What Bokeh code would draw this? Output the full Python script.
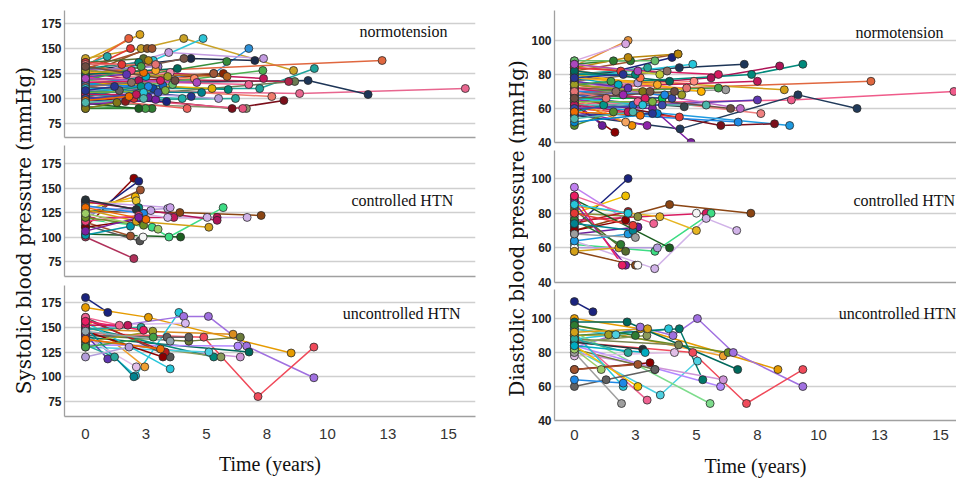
import math
from bokeh.plotting import figure
from bokeh.layouts import row, column
from bokeh.models import Range1d, FixedTicker, ColumnDataSource, Label
from bokeh.embed import file_html
from bokeh.resources import INLINE

# ---------------- data ----------------
x_ticks = [0, 2.5, 5, 7.5, 10, 12.5, 15]
x_tick_labels = ["0", "3", "5", "8", "10", "13", "15"]
sbp_ticks = [75, 100, 125, 150, 175]
dbp_ticks = [40, 60, 80, 100]
group_labels = ["normotension", "controlled HTN", "uncontrolled HTN"]
x_title = "Time (years)"
sbp_title = "Systolic blood pressure (mmHg)"
dbp_title = "Diastolic blood pressure (mmHg)"

# each subject: list of (time in years, blood pressure)
sbp_normo = [
    [(0, 138), (2.25, 164)], [(0, 132), (1.79, 160)], [(0, 140), (2.3, 150), (4.06, 160), (8.6, 128)],
    [(0, 118), (2.8, 138), (4.86, 160)], [(0, 112), (5.3, 125), (6.75, 150)], [(0, 128), (4.36, 140), (7.0, 138)],
    [(0, 122), (3.44, 146), (7.36, 140)], [(0, 125), (12.26, 138)], [(0, 108), (8.85, 105), (15.7, 110)],
    [(0, 115), (9.2, 118), (11.68, 104)], [(0, 110), (7.2, 110), (9.46, 130)], [(0, 100), (8.65, 117)],
    [(0, 120), (8.4, 117)], [(0, 105), (6.06, 90), (8.2, 98)], [(0, 112), (7.7, 102)],
    [(0, 130), (7.36, 120)], [(0, 106), (7.33, 128)], [(0, 118), (6.75, 114)],
    [(0, 96), (6.65, 90)], [(0, 102), (6.5, 90)], [(0, 98), (6.2, 100)],
    [(0, 115), (5.9, 109)], [(0, 100), (4.2, 90)], [(0, 104), (4.0, 100)],
    [(0, 110), (4.37, 102)], [(0, 98), (3.35, 97)], [(0, 90), (2.75, 90)],
    [(0, 92), (2.48, 90)], [(0, 95), (2.2, 90)], [(0, 108), (2.0, 100)],
    [(0, 102), (1.65, 97)], [(0, 134), (0.9, 142)], [(0, 128), (1.86, 150)],
    [(0, 124), (2.55, 150)], [(0, 130), (2.75, 150)], [(0, 120), (4.07, 140)],
    [(0, 114), (5.84, 137)], [(0, 116), (5.23, 110)], [(0, 108), (5.5, 100)],
    [(0, 118), (5.3, 125)], [(0, 112), (5.7, 125)], [(0, 126), (5.85, 122)],
    [(0, 136), (2.4, 140)], [(0, 122), (2.6, 138)], [(0, 100), (2.6, 101)],
    [(0, 94), (2.9, 99)], [(0, 110), (3.2, 113)], [(0, 120), (1.9, 128)],
    [(0, 126), (2.2, 118)], [(0, 114), (2.5, 122)], [(0, 104), (2.8, 110)],
    [(0, 132), (2.4, 126)], [(0, 118), (3.6, 114)], [(0, 107), (4.8, 106)],
    [(0, 124), (4.5, 120)], [(0, 90), (1.3, 96)], [(0, 128), (3.0, 132)],
    [(0, 112), (1.4, 108)], [(0, 116), (3.5, 126)], [(0, 102), (2.3, 112)],
    [(0, 136), (1.5, 134)], [(0, 130), (2.2, 136)], [(0, 126), (2.9, 128)], [(0, 122), (1.7, 124)],
    [(0, 118), (2.3, 132)], [(0, 116), (3.1, 118)], [(0, 114), (2.6, 112)], [(0, 112), (1.9, 116)],
    [(0, 110), (2.4, 106)], [(0, 106), (3.3, 108)], [(0, 104), (2.1, 104)], [(0, 100), (3.0, 106)],
    [(0, 98), (1.8, 102)], [(0, 124), (3.8, 130)], [(0, 120), (4.6, 116)], [(0, 128), (3.4, 122)],
    [(0, 134), (2.9, 134)], [(0, 108), (1.2, 112)], [(0, 96), (2.4, 100)], [(0, 132), (3.7, 118)],
]
sbp_ctrl = [
    [(0, 110), (2.0, 160)], [(0, 118), (2.2, 157)], [(0, 122), (2.27, 148)], [(0, 128), (2.06, 141)],
    [(0, 134), (2.1, 137)], [(0, 126), (2.2, 130)], [(0, 130), (2.7, 127)], [(0, 124), (3.4, 129)],
    [(0, 136), (3.5, 130)], [(0, 126), (3.9, 125), (7.26, 122)], [(0, 120), (3.65, 120), (5.44, 120)],
    [(0, 132), (3.4, 120), (5.03, 120), (6.68, 120)], [(0, 118), (2.75, 110), (3.45, 100), (5.69, 130)],
    [(0, 103), (3.93, 100)], [(0, 115), (1.86, 101)], [(0, 112), (2.25, 96)], [(0, 125), (2.38, 100)],
    [(0, 100), (2.0, 78)], [(0, 102), (1.86, 111)], [(0, 128), (2.1, 116), (5.1, 110)],
    [(0, 136), (5.44, 117)], [(0, 110), (2.3, 118)], [(0, 132), (2.4, 124)], [(0, 138), (2.1, 128)],
    [(0, 116), (2.2, 122)], [(0, 120), (2.4, 112)], [(0, 130), (2.5, 118)], [(0, 106), (2.2, 120)],
    [(0, 124), (3.0, 108)],
]
sbp_unctrl = [
    [(0, 180), (0.92, 165)], [(0, 170), (2.6, 160), (8.5, 124)], [(0, 158), (2.45, 110)],
    [(0, 148), (6.1, 143)], [(0, 142), (4.27, 136), (6.4, 140)], [(0, 145), (2.07, 101), (3.86, 165)],
    [(0, 147), (4.06, 161), (5.08, 161), (6.66, 131), (9.44, 99)], [(0, 152), (4.13, 154)],
    [(0, 144), (4.89, 140), (7.13, 80), (9.44, 130)], [(0, 140), (6.76, 125)], [(0, 132), (6.3, 131)],
    [(0, 136), (6.4, 120)], [(0, 150), (5.3, 120)], [(0, 138), (5.6, 120)], [(0, 130), (5.1, 125)],
    [(0, 155), (3.5, 108)], [(0, 160), (3.5, 120)], [(0, 142), (3.37, 140), (4.27, 140)],
    [(0, 158), (3.3, 125)], [(0, 146), (3.2, 120)], [(0, 135), (2.78, 146)], [(0, 150), (2.0, 100)],
    [(0, 140), (2.1, 110)], [(0, 143), (0.92, 118)], [(0, 132), (1.2, 120)], [(0, 120), (1.8, 130)],
    [(0, 130), (2.8, 140)], [(0, 160), (1.4, 152)], [(0, 148), (2.3, 150)], [(0, 152), (1.75, 152)],
    [(0, 138), (3.1, 128)], [(0, 146), (3.5, 136)], [(0, 156), (2.4, 147)],
]
dbp_normo = [
    [(0, 85), (2.2, 100)], [(0, 88), (2.1, 98)], [(0, 82), (4.24, 92)], [(0, 76), (4.0, 90)],
    [(0, 80), (4.3, 84), (6.96, 86)], [(0, 78), (4.85, 86)], [(0, 72), (5.6, 78), (8.41, 85)],
    [(0, 74), (7.26, 80), (9.36, 86)], [(0, 70), (12.15, 76)], [(0, 63), (8.89, 65), (15.55, 70)],
    [(0, 56), (4.33, 48), (9.16, 68), (11.58, 60)], [(0, 78), (8.6, 71)], [(0, 62), (8.82, 50)],
    [(0, 66), (6.0, 50), (8.2, 51)], [(0, 58), (6.71, 52)], [(0, 70), (7.64, 57)], [(0, 60), (7.5, 65)],
    [(0, 72), (7.5, 76)], [(0, 84), (5.9, 80)], [(0, 68), (6.2, 71)], [(0, 70), (5.9, 72)],
    [(0, 62), (3.2, 60), (4.78, 40)], [(0, 60), (4.3, 55)], [(0, 58), (2.98, 50)], [(0, 64), (2.36, 50)],
    [(0, 66), (2.1, 52)], [(0, 62), (1.66, 46)], [(0, 64), (1.14, 50)], [(0, 50), (1.6, 58)],
    [(0, 52), (3.4, 57)], [(0, 56), (3.2, 57)], [(0, 72), (4.9, 76)], [(0, 66), (4.5, 61)],
    [(0, 86), (1.6, 88), (2.3, 88)], [(0, 84), (2.2, 90), (4.25, 92)], [(0, 88), (3.3, 88)],
    [(0, 80), (3.0, 84)], [(0, 76), (3.8, 82)], [(0, 70), (2.6, 75)], [(0, 74), (2.8, 70)],
    [(0, 68), (2.4, 62)], [(0, 60), (2.6, 64)], [(0, 82), (2.7, 78)], [(0, 66), (3.6, 66)],
    [(0, 78), (1.8, 74)], [(0, 72), (3.1, 70)], [(0, 64), (2.0, 68)], [(0, 86), (3.5, 80)],
    [(0, 58), (1.2, 62)], [(0, 75), (4.6, 72)], [(0, 68), (4.0, 66)], [(0, 80), (5.2, 70)],
    [(0, 62), (5.4, 62)], [(0, 76), (6.8, 60)], [(0, 70), (6.4, 60)],
    [(0, 84), (1.9, 82)], [(0, 80), (2.5, 80)], [(0, 78), (3.4, 74)], [(0, 76), (2.2, 72)],
    [(0, 74), (1.5, 76)], [(0, 72), (2.9, 66)], [(0, 70), (3.7, 68)], [(0, 68), (1.7, 70)],
    [(0, 66), (2.8, 62)], [(0, 64), (3.2, 64)], [(0, 62), (2.2, 58)], [(0, 60), (3.6, 62)],
    [(0, 58), (2.7, 56)], [(0, 82), (3.9, 76)], [(0, 86), (2.6, 82)], [(0, 74), (4.4, 68)],
    [(0, 70), (1.3, 66)], [(0, 78), (2.0, 80)], [(0, 54), (2.4, 58)], [(0, 66), (4.1, 70)],
]
dbp_ctrl = [
    [(0, 72), (2.2, 100)], [(0, 80), (2.1, 90)], [(0, 70), (3.9, 85), (7.23, 80)], [(0, 78), (5.0, 80)],
    [(0, 76), (5.4, 80)], [(0, 62), (3.3, 58), (5.6, 80)], [(0, 95), (2.6, 72)],
    [(0, 64), (3.29, 48), (5.4, 77), (6.65, 70)], [(0, 84), (3.5, 78), (5.0, 70)], [(0, 90), (3.25, 74)],
    [(0, 80), (2.6, 78)], [(0, 68), (2.6, 72)], [(0, 70), (2.1, 76)], [(0, 74), (2.2, 81)],
    [(0, 60), (3.4, 60)], [(0, 88), (3.9, 60)], [(0, 86), (2.1, 50)], [(0, 90), (1.96, 50)],
    [(0, 58), (2.5, 50)], [(0, 60), (2.6, 50)], [(0, 58), (1.82, 60)], [(0, 82), (2.1, 58)],
    [(0, 76), (1.9, 62)], [(0, 64), (2.2, 68)], [(0, 74), (2.4, 70)], [(0, 80), (2.4, 73)],
    [(0, 68), (2.5, 66)], [(0, 85), (2.2, 80)],
]
dbp_unctrl = [
    [(0, 110), (0.76, 104)], [(0, 100), (2.7, 94), (8.34, 70)], [(0, 96), (6.1, 78)], [(0, 94), (6.3, 80)],
    [(0, 98), (2.16, 98), (6.69, 70)], [(0, 83), (2.7, 95), (4.04, 90), (5.04, 100), (6.51, 80), (9.36, 60)],
    [(0, 88), (3.86, 94)], [(0, 90), (4.3, 94), (5.26, 64)], [(0, 86), (4.85, 80), (7.05, 50), (9.36, 70)],
    [(0, 82), (3.52, 55), (5.04, 75)], [(0, 92), (5.56, 50)], [(0, 84), (5.99, 60)], [(0, 80), (6.1, 64)],
    [(0, 88), (4.27, 84.5)], [(0, 86), (2.97, 90)], [(0, 78), (4.1, 80)], [(0, 82), (3.3, 70)],
    [(0, 90), (2.98, 52)], [(0, 84), (2.6, 60)], [(0, 92), (2.0, 60)], [(0, 80), (1.93, 50)],
    [(0, 60), (1.3, 64), (3.3, 70)], [(0, 64), (2.0, 62)], [(0, 70), (3.1, 74)], [(0, 70), (2.6, 73)],
    [(0, 90), (1.4, 90.5)], [(0, 94), (1.7, 90.5)], [(0, 82), (1.1, 70)], [(0, 96), (2.5, 90)],
    [(0, 86), (2.8, 82)], [(0, 88), (2.2, 80)], [(0, 84), (2.9, 80)], [(0, 92), (3.0, 94)],
]

# ---------------- styles ----------------
extra_colors = [
    "#e53935", "#00897b", "#f9a825", "#5e35b1", "#43a047", "#d81b60", "#1e88e5", "#8d6e63", "#26c6da",
    "#7cb342", "#c2185b", "#3949ab", "#ef6c00", "#00695c", "#ab47bc", "#9e9d24", "#e57373", "#283593",
    "#4db6ac", "#6d4c41",
]
sbp_normo_colors = [
    "#d9a21b", "#e8603c", "#c9a227", "#2ec4d6", "#2c8fd6", "#1b2a49", "#c39be0", "#e0673f", "#e8668f",
    "#1d3557", "#1fa39a", "#6b7b52", "#b0264a", "#7a0e1a", "#ef7b6b", "#c2185b", "#4caf50", "#f06292",
    "#8a8f6a", "#e75480", "#26a69a", "#00897b", "#f0625d", "#20b2aa", "#283593", "#1a237e", "#2e7d32",
    "#43a047", "#1b5e20", "#d32f2f", "#8b1a1a", "#26a6a6", "#e53935", "#8d5524", "#a0522d", "#795548",
    "#388e3c", "#e0b000", "#b39ddb", "#a1583a", "#8b2500", "#b5651d", "#556b2f", "#b8860b", "#6a1b9a",
    "#7b1fa2", "#1565c0", "#ec407a", "#ad1457", "#00acc1", "#0d47a1", "#ef6c00", "#66bb6a", "#00838f",
    "#ff8a65", "#827717", "#9575cd", "#616161", "#f48fb1", "#009688",
] + extra_colors
sbp_ctrl_colors = [
    "#8b0000", "#1a237e", "#a0522d", "#f0b400", "#e6c229", "#00897b", "#c5a3e6", "#b39ddb", "#c9a0e8",
    "#8b4513", "#c2185b", "#d1b3e8", "#3ddc84", "#1b5e20", "#a0522d", "#555555", "#f5f5f5", "#b0305a",
    "#0097a7", "#d4a017", "#ad1457", "#7f0000", "#1e88e5", "#263238", "#ec407a", "#6b8e23", "#ef6c00",
    "#7b1fa2", "#9ccc65",
]
sbp_unctrl_colors = [
    "#1a237e", "#e69b00", "#f0a030", "#d98c1e", "#6b7b3a", "#26c6da", "#a070e0", "#d7b8f0", "#f04a5a",
    "#00695c", "#b388ff", "#ce93d8", "#00897b", "#8a9a5b", "#4dd0e1", "#26c6da", "#555555", "#616161",
    "#b71c1c", "#8b0000", "#9e9d24", "#00838f", "#e1bee7", "#5e35b1", "#26a69a", "#b39ddb", "#43a047",
    "#f06292", "#26a69a", "#c2185b", "#ef6c00", "#90a4ae", "#e91e63",
]
dbp_normo_colors = [
    "#e69138", "#d7a5e0", "#a0522d", "#1a237e", "#1d3557", "#26c6da", "#ad1457", "#00897b", "#e0673f",
    "#ef5b8a", "#203a5a", "#d4a017", "#1e9ae0", "#7a0e1a", "#1e88e5", "#f08080", "#5e35b1", "#c2185b",
    "#d81b60", "#9e9e9e", "#43a047", "#7b1fa2", "#e53935", "#8e24aa", "#ef8c00", "#f4a460", "#8b0000",
    "#6a1b9a", "#558b2f", "#0288d1", "#283593", "#ff8a80", "#37474f", "#2e7d32", "#b8860b", "#66bb6a",
    "#26a69a", "#8d6e63", "#b39ddb", "#827717", "#1565c0", "#f06292", "#ff7043", "#00c853", "#00acc1",
    "#795548", "#9c27b0", "#c0ca33", "#009688", "#e57373", "#3949ab", "#ffb300", "#4db6ac", "#ba68c8",
    "#6d4c41",
] + extra_colors
dbp_ctrl_colors = [
    "#1a237e", "#f0c000", "#8b4513", "#f5f5f5", "#d81b60", "#3ddc84", "#c080f0", "#d1b3e8", "#e6b422",
    "#f06292", "#8a8f3a", "#6a1b9a", "#8b0000", "#b71c1c", "#b39ddb", "#1b5e20", "#7b1fa2", "#e91e63",
    "#8b4513", "#fafafa", "#d4a017", "#556b2f", "#2e7d32", "#1e9ae0", "#00838f", "#e53935", "#9e9e9e",
    "#26c6da",
]
dbp_unctrl_colors = [
    "#1a237e", "#e69b00", "#f0a030", "#6b8e23", "#00695c", "#a070e0", "#26c6da", "#00796b", "#f04a5a",
    "#4dd0e1", "#7ddc8c", "#b388ff", "#ce93d8", "#7a8450", "#8a9a5b", "#e1bee7", "#6b7b3a", "#f06292",
    "#f0c000", "#26c6da", "#9e9e9e", "#616161", "#1e88e5", "#8b0000", "#a0522d", "#9e9d24", "#4dd0e1",
    "#9ccc65", "#2e7d32", "#263238", "#26a69a", "#00acc1", "#d4a017",
]

TICK_FONT = "Liberation Sans"
SERIF = "Liberation Serif"


def panel(subjects, colors, y_rng, yticks, label, lx, ly, x_rng, w, h, bl, br, bt, bb,
          bottom=False, s1=12, s2=11):
    p = figure(width=w, height=h, x_range=Range1d(*x_rng), y_range=Range1d(*y_rng),
               output_backend="svg", toolbar_location=None,
               min_border_left=bl, min_border_right=br, min_border_top=bt, min_border_bottom=bb)
    p.outline_line_color = None
    p.xgrid.grid_line_color = None
    p.ygrid.ticker = FixedTicker(ticks=yticks)
    p.ygrid.grid_line_color = "#cfcfcf"
    p.ygrid.grid_line_width = 1.6

    xs = [[pt[0] for pt in s] for s in subjects]
    ys = [[pt[1] for pt in s] for s in subjects]
    p.multi_line(xs="xs", ys="ys", line_color="c", line_width=1.5,
                 source=ColumnDataSource(dict(xs=xs, ys=ys, c=colors)))
    fx, fy, fc = [], [], []
    for s, c in zip(subjects, colors):
        for t, v in s:
            fx.append(t); fy.append(v); fc.append(c)
    p.scatter(x="x", y="y", size=8, fill_color="c", line_color="#2b2b2b", line_width=0.8,
              source=ColumnDataSource(dict(x=fx, y=fy, c=fc)))

    ya = p.yaxis[0]
    ya.ticker = FixedTicker(ticks=yticks)
    ya.major_tick_line_color = None
    ya.minor_tick_line_color = None
    ya.major_tick_out = 0
    ya.major_tick_in = 0
    ya.axis_line_color = "#a0a0a0"
    ya.axis_line_width = 1.3
    ya.major_label_text_font = TICK_FONT
    ya.major_label_text_font_style = "bold"
    ya.major_label_text_font_size = "12px"
    ya.major_label_text_color = "#222222"
    ya.major_label_standoff = 3

    xa = p.xaxis[0]
    xa.major_tick_line_color = None
    xa.minor_tick_line_color = None
    xa.major_tick_out = 0
    xa.major_tick_in = 0
    xa.axis_line_color = "#a0a0a0"
    xa.axis_line_width = 1.3
    if bottom:
        xa.ticker = FixedTicker(ticks=x_ticks)
        xa.major_label_overrides = {t: l for t, l in zip(x_ticks, x_tick_labels)}
        xa.major_label_text_font = TICK_FONT
        xa.major_label_text_font_size = "15px"
        xa.major_label_text_color = "#333333"
        xa.major_label_standoff = s1
        xa.axis_label = x_title
        xa.axis_label_text_font = SERIF
        xa.axis_label_text_font_style = "normal"
        xa.axis_label_text_font_size = "20px"
        xa.axis_label_text_color = "#111111"
        xa.axis_label_standoff = s2
    else:
        xa.ticker = FixedTicker(ticks=[])
        xa.major_label_standoff = 0

    p.add_layout(Label(x=lx, y=ly, text=label, text_align="right", text_baseline="middle",
                       text_font=SERIF, text_font_size="16px", text_color="#111111"))
    return p


def title_fig(w, h, text, tx, ty):
    f = figure(width=w, height=h, x_range=Range1d(0, w), y_range=Range1d(0, h),
               output_backend="svg", toolbar_location=None, min_border=0,
               x_axis_type=None, y_axis_type=None)
    f.outline_line_color = None
    f.grid.visible = False
    f.add_layout(Label(x=tx, y=ty, text=text, angle=math.pi / 2, text_align="center",
                       text_baseline="middle", text_font="DejaVu Serif", text_font_size="20px",
                       text_color="#111111"))
    return f


H = 482
lx_rng = (-0.868, 16.12)
rx_rng = (-0.815, 15.655)

# left column: x 36..486, frame 64..475
f1 = panel(sbp_normo, sbp_normo_colors, (61, 188), sbp_ticks, group_labels[0], 14.96, 167,
           lx_rng, 450, 141, 28, 11, 10, 4)
f2 = panel(sbp_ctrl, sbp_ctrl_colors, (59.7, 193.4), sbp_ticks, group_labels[1], 15.2, 137.2,
           lx_rng, 450, 139, 28, 11, 4, 4)
f3 = panel(sbp_unctrl, sbp_unctrl_colors, (59.85, 192.2), sbp_ticks, group_labels[2], 15.5, 163.9,
           lx_rng, 450, 202, 28, 11, 5, 66, bottom=True, s1=12, s2=11)

# right column: x 528..956, frame 552..956
g1 = panel(dbp_normo, dbp_normo_colors, (40, 117.6), dbp_ticks, group_labels[0], 15.12, 104.7,
           rx_rng, 428, 150, 24, 0, 10, 8)
g2 = panel(dbp_ctrl, dbp_ctrl_colors, (40, 116.2), dbp_ticks, group_labels[1], 15.6, 87.3,
           rx_rng, 428, 139, 24, 0, 0, 7)
g3 = panel(dbp_unctrl, dbp_unctrl_colors, (40, 117.1), dbp_ticks, group_labels[2], 15.65, 102.9,
           rx_rng, 428, 193, 24, 0, 0, 62, bottom=True, s1=9, s2=12)

t_left = title_fig(36, H, sbp_title, 23, H - 230)
t_right = title_fig(42, H, dbp_title, 30, H - 228)

layout = row(t_left, column(f1, f2, f3), t_right, column(g1, g2, g3))

open("out.html", "w").write(file_html(layout, INLINE))
